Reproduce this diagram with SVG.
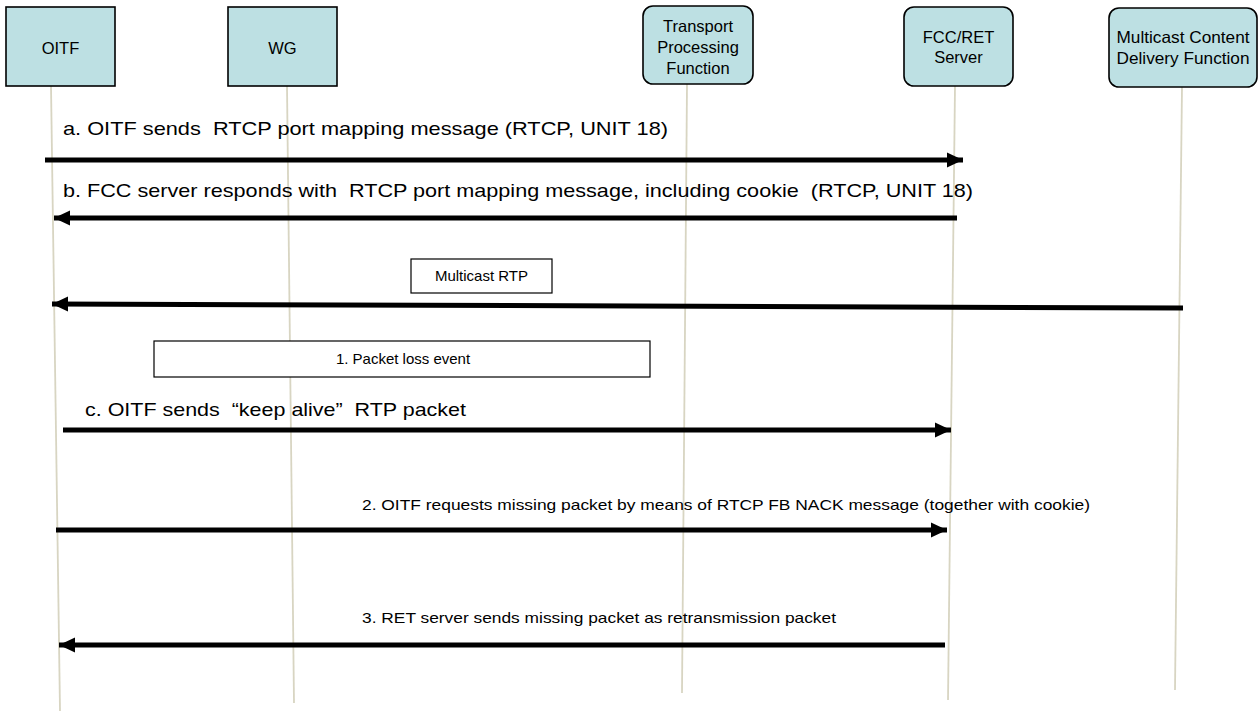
<svg xmlns="http://www.w3.org/2000/svg" width="1260" height="711" viewBox="0 0 1260 711">
<defs>
<style>
.box{fill:#bde0e3;stroke:#000;stroke-width:1.6}
.lbl{font-family:"Liberation Sans",Arial,sans-serif;font-size:16.5px;fill:#000;text-anchor:middle}
.life{stroke:#d8d5c2;stroke-width:1.8;fill:none}
.msg{stroke:#000;stroke-width:5;fill:none}
.mt{font-family:"Liberation Sans",Arial,sans-serif;font-size:19px;fill:#000;white-space:pre}
.st{font-family:"Liberation Sans",Arial,sans-serif;font-size:15px;fill:#000;white-space:pre}
.note{fill:#fff;stroke:#000;stroke-width:1.2}
</style>
<marker id="ah" markerUnits="userSpaceOnUse" markerWidth="17" markerHeight="17" refX="16" refY="8.5" orient="auto">
<path d="M0,1 L16,8.5 L0,16 z" fill="#000"/>
</marker>
</defs>
<rect width="1260" height="711" fill="#fff"/>
<g id="lifelines">
<line class="life" x1="51" y1="86" x2="60" y2="711"/>
<line class="life" x1="287" y1="86" x2="294" y2="703"/>
<line class="life" x1="687" y1="84" x2="682" y2="693"/>
<line class="life" x1="955" y1="86" x2="948" y2="700"/>
<line class="life" x1="1182" y1="87" x2="1175" y2="690"/>
</g>
<g id="oitf">
<rect class="box" x="6" y="7" width="109" height="79"/>
<text class="lbl" x="60.5" y="54">OITF</text>
</g>
<g id="wg">
<rect class="box" x="228" y="7" width="109" height="79"/>
<text class="lbl" x="282.5" y="54">WG</text>
</g>
<g id="tpf">
<rect class="box" x="643" y="6" width="110" height="78" rx="10"/>
<text class="lbl" x="698" y="32">Transport</text>
<text class="lbl" x="698" y="53">Processing</text>
<text class="lbl" x="698" y="74">Function</text>
</g>
<g id="fcc">
<rect class="box" x="904" y="7" width="109" height="79" rx="10"/>
<text class="lbl" x="958.5" y="43">FCC/RET</text>
<text class="lbl" x="958.5" y="63">Server</text>
</g>
<g id="mcdf">
<rect class="box" x="1109" y="8" width="148" height="79" rx="10"/>
<text class="lbl" x="1183" y="43" textLength="133" lengthAdjust="spacingAndGlyphs">Multicast Content</text>
<text class="lbl" x="1183" y="64" textLength="133" lengthAdjust="spacingAndGlyphs">Delivery Function</text>
</g>
<g id="notes">
<g id="note-rtp">
<rect class="note" x="411" y="259" width="141" height="34"/>
<text class="st" x="481.5" y="281" text-anchor="middle" font-size="14">Multicast RTP</text>
</g>
<g id="note-loss">
<rect class="note" x="154" y="341" width="496" height="36"/>
<text class="st" x="403" y="364" text-anchor="middle" font-size="14">1. Packet loss event</text>
</g>
</g>
<g id="connectors">
<line class="msg" x1="45" y1="160" x2="963" y2="160" marker-end="url(#ah)"/>
<line class="msg" x1="957" y1="218" x2="54" y2="218" marker-end="url(#ah)"/>
<line class="msg" x1="1183" y1="308" x2="52" y2="304" marker-end="url(#ah)"/>
<line class="msg" x1="63" y1="430" x2="951" y2="430" marker-end="url(#ah)"/>
<line class="msg" x1="56" y1="530" x2="947" y2="530" marker-end="url(#ah)"/>
<line class="msg" x1="945" y1="645" x2="59" y2="645" marker-end="url(#ah)"/>
</g>
<g id="labels">
<text class="mt" x="63" y="135" textLength="605" lengthAdjust="spacingAndGlyphs">a. OITF sends  RTCP port mapping message (RTCP, UNIT 18)</text>
<text class="mt" x="63" y="197" textLength="910" lengthAdjust="spacingAndGlyphs">b. FCC server responds with  RTCP port mapping message, including cookie  (RTCP, UNIT 18)</text>
<text class="mt" x="85" y="416" textLength="381" lengthAdjust="spacingAndGlyphs">c. OITF sends  “keep alive”  RTP packet</text>
<text class="st" x="362" y="510" textLength="728" lengthAdjust="spacingAndGlyphs">2. OITF requests missing packet by means of RTCP FB NACK message (together with cookie)</text>
<text class="st" x="362" y="623" textLength="474" lengthAdjust="spacingAndGlyphs">3. RET server sends missing packet as retransmission packet</text>
</g>
</svg>
